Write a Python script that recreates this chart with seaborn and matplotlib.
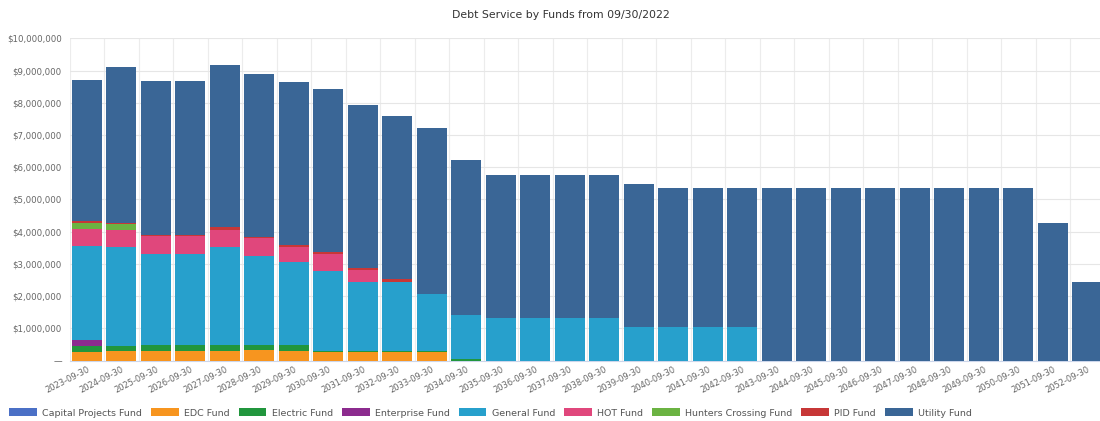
import matplotlib
matplotlib.use("Agg")
import matplotlib.pyplot as plt
from matplotlib.patches import Patch
from matplotlib.ticker import FixedLocator
import numpy as np
import pandas as pd
import seaborn as sns

# Fiscal year-end dates (one bar per year)
years = [f"{y}-09-30" for y in range(2023, 2053)]

# Annual debt service per fund, in millions of dollars
capital_projects = [0.0] * 30
edc = [0.27, 0.29, 0.31, 0.31, 0.31, 0.33, 0.31, 0.25, 0.25, 0.25, 0.25] + [0.0] * 19
electric = [0.17, 0.16, 0.16, 0.16, 0.16, 0.16, 0.16, 0.03, 0.03, 0.03, 0.03, 0.05] + [0.0] * 18
enterprise = [0.20] + [0.0] * 29
general = [2.92, 3.07, 2.85, 2.82, 3.04, 2.75, 2.58, 2.50, 2.17, 2.17, 1.79, 1.36,
           1.33, 1.33, 1.33, 1.33, 1.05, 1.05, 1.05, 1.05] + [0.0] * 10
hot = [0.53, 0.52, 0.54, 0.56, 0.55, 0.55, 0.47, 0.53, 0.36] + [0.0] * 21
hunters_crossing = [0.18, 0.19] + [0.0] * 28
pid = [0.06, 0.05, 0.04, 0.04, 0.07, 0.05, 0.06, 0.05, 0.05, 0.07] + [0.0] * 20
utility = [4.37, 4.84, 4.76, 4.77, 5.05, 5.06, 5.06, 5.07, 5.07, 5.06, 5.14, 4.81,
           4.44, 4.44, 4.44, 4.44, 4.44, 4.30, 4.30, 4.30,
           5.35, 5.35, 5.35, 5.35, 5.35, 5.35, 5.35, 5.35, 4.27, 2.45]

funds = ["Capital Projects Fund", "EDC Fund", "Electric Fund", "Enterprise Fund",
         "General Fund", "HOT Fund", "Hunters Crossing Fund", "PID Fund", "Utility Fund"]
series = [capital_projects, edc, electric, enterprise, general, hot,
          hunters_crossing, pid, utility]
colors = ["#4b70c6", "#f7951f", "#21963d", "#8c2b8e", "#27a0cc",
          "#e0477c", "#6bb342", "#c73737", "#3a6696"]

y_ticks = [0, 1e6, 2e6, 3e6, 4e6, 5e6, 6e6, 7e6, 8e6, 9e6, 1e7]

rows = []
for fund, vals in zip(funds, series):
    for i, v in enumerate(vals):
        rows.append({"idx": i, "fund": fund, "amount": v * 1e6})
df = pd.DataFrame(rows)

sns.set_theme(style="white")
plt.rcParams["font.family"] = ["DejaVu Sans"]

fig = plt.figure(figsize=(11, 4.21), dpi=100)
ax = fig.add_axes([69.5 / 1100, 60.5 / 421, 1035 / 1100, 322.2 / 421])

# seaborn stacks the first hue level on top, so feed the funds bottom-up reversed
sns.histplot(data=df, x="idx", weights="amount", hue="fund",
             hue_order=funds[::-1], palette=dict(zip(funds, colors)),
             multiple="stack", discrete=True, shrink=0.87,
             linewidth=0, alpha=1, legend=False, ax=ax, zorder=3)

ax.set_xlim(-0.5, 29.5)
ax.set_ylim(0, 1e7)
ax.set_xlabel("")
ax.set_ylabel("")

# Grid: horizontal at each $1M, vertical between categories
ax.set_yticks(y_ticks)
ax.set_yticklabels(["\u2014"] + [f"${int(v):,}" for v in y_ticks[1:]])
ax.xaxis.set_minor_locator(FixedLocator(np.arange(-0.5, 30.5, 1)))
ax.set_xticks(range(len(years)))
ax.set_xticklabels(years, rotation=27, ha="right", rotation_mode="anchor")
ax.grid(axis="y", which="major", color="#e6e6e6", linewidth=0.8, zorder=0)
ax.grid(axis="x", which="minor", color="#ececec", linewidth=0.8, zorder=0)
ax.grid(axis="x", which="major", visible=False)
ax.tick_params(axis="y", length=0, pad=5.5, labelsize=6.2, labelcolor="#666666")
ax.tick_params(axis="x", which="both", length=0, pad=3, labelsize=6.0, labelcolor="#666666")
for side in ["top", "right", "left"]:
    ax.spines[side].set_visible(False)
ax.spines["bottom"].set_color("#ccd6eb")
ax.spines["bottom"].set_linewidth(0.8)

fig.text(0.51, 1 - 15 / 421, "Debt Service by Funds from 09/30/2022",
         ha="center", va="center", fontsize=7.8, color="#333333")

handles = [Patch(facecolor=c, edgecolor="none") for c in colors]
fig.legend(handles, funds, loc="center left", bbox_to_anchor=(9 / 1100, 8 / 421),
           ncol=9, frameon=False, fontsize=6.8, labelcolor="#555555",
           handlelength=2.95, handleheight=0.95, handletextpad=0.55,
           columnspacing=0.95, borderpad=0, borderaxespad=0)

fig.savefig("out.png", dpi=100)
